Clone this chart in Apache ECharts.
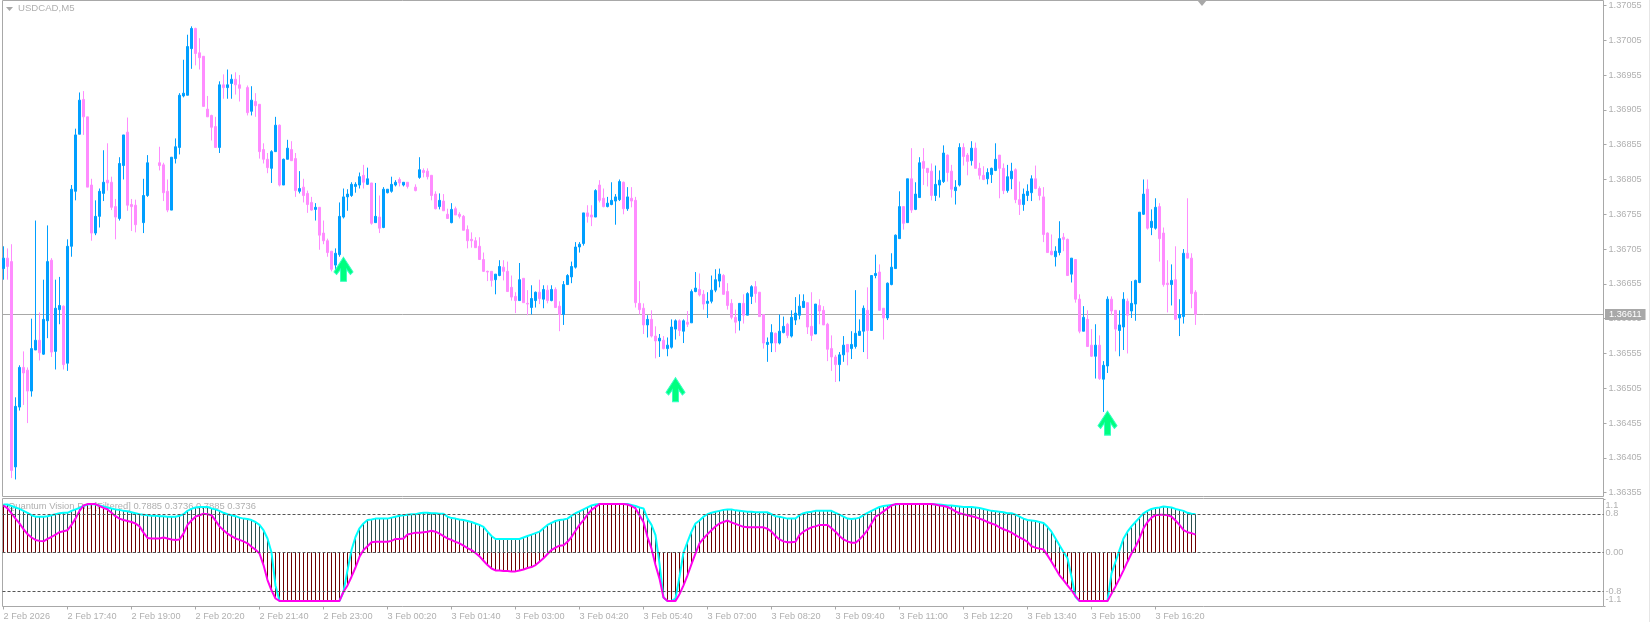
<!DOCTYPE html>
<html><head><meta charset="utf-8"><title>USDCAD,M5</title>
<style>html,body{margin:0;padding:0;background:#fff}#c{width:1650px;height:622px}</style>
<script src="https://cdn.jsdelivr.net/npm/echarts@6/dist/echarts.min.js"></script></head>
<body><div id="c"></div>
<script>
const opens=[1.36677,1.36692,1.36687,1.36392,1.36478,1.36535,1.36531,1.36501,1.36560,1.36574,
1.36554,1.36602,1.36689,1.36558,1.36618,1.36623,1.36541,1.36709,1.36788,1.36870,
1.36920,1.36895,1.36797,1.36728,1.36752,1.36785,1.36804,1.36801,1.36766,1.36749,
1.36825,1.36873,1.36769,1.36768,null,1.36743,1.36782,null,null,1.36829,
1.36826,1.36788,1.36761,1.36835,1.36851,1.36925,1.36926,1.36993,1.37022,1.36987,
1.36982,1.36906,1.36897,1.36881,1.36851,1.36941,1.36937,1.36943,1.36949,1.36941,
null,1.36937,1.36903,1.36917,1.36913,1.36848,1.36834,1.36821,1.36845,1.36883,
1.36797,1.36834,1.36848,1.36835,1.36788,1.36794,1.36785,1.36772,1.36762,1.36765,
1.36728,1.36717,1.36702,1.36682,1.36697,1.36751,1.36780,1.36782,1.36795,1.36797,
1.36811,1.36798,1.36800,1.36743,1.36751,1.36736,1.36786,1.36788,1.36797,1.36805,
1.36797,1.36801,null,1.36794,1.36808,1.36818,1.36817,1.36811,1.36784,1.36766,
1.36774,1.36755,1.36743,1.36763,1.36755,1.36752,1.36733,1.36719,1.36717,1.36709,
1.36690,1.36673,1.36673,1.36661,1.36667,1.36679,1.36673,1.36650,1.36637,1.36631,
1.36663,1.36627,1.36621,1.36631,1.36643,1.36633,1.36646,1.36631,1.36647,1.36623,
1.36611,1.36654,1.36665,1.36679,1.36708,1.36713,1.36757,1.36754,1.36751,1.36797,
1.36778,1.36766,1.36769,1.36774,1.36776,1.36801,1.36763,1.36778,1.36775,1.36627,
1.36620,1.36596,1.36604,1.36580,1.36573,1.36574,1.36562,1.36564,1.36590,1.36602,
1.36587,1.36600,1.36599,1.36644,1.36647,1.36640,1.36627,1.36630,1.36646,1.36659,
1.36667,1.36644,1.36627,1.36607,1.36602,1.36627,1.36610,1.36637,1.36651,1.36643,
1.36611,1.36568,1.36570,1.36584,1.36570,1.36585,1.36597,1.36580,1.36603,1.36610,
1.36621,1.36628,1.36594,1.36583,1.36624,1.36617,1.36597,1.36562,1.36550,1.36539,
1.36553,1.36568,1.36562,1.36565,1.36581,1.36587,1.36617,1.36588,1.36667,1.36672,
1.36620,1.36606,1.36654,1.36677,1.36720,1.36766,1.36743,1.36806,1.36762,1.36779,
1.36831,1.36821,1.36817,1.36782,1.36797,1.36802,1.36840,1.36817,1.36789,1.36797,
1.36851,1.36840,1.36832,1.36850,1.36821,1.36811,1.36806,1.36812,1.36818,1.36840,
1.36821,1.36789,1.36806,1.36819,1.36776,1.36769,1.36782,1.36786,1.36806,1.36792,
1.36780,1.36728,1.36702,1.36694,1.36700,1.36722,1.36719,1.36669,1.36690,1.36633,
1.36587,1.36604,1.36567,1.36551,1.36567,1.36518,1.36537,1.36633,1.36617,1.36588,
1.36593,1.36630,1.36616,1.36626,1.36657,1.36755,1.36791,1.36736,1.36735,1.36766,
1.36728,1.36656,1.36654,1.36661,1.36606,1.36608,1.36699,1.36692,1.36643];
const closes=[1.36692,1.36680,1.36387,1.36479,1.36535,1.36527,1.36501,1.36562,1.36574,1.36556,
1.36604,1.36687,1.36557,1.36620,1.36624,1.36539,1.36709,1.36791,1.36869,1.36919,
1.36895,1.36794,1.36728,1.36752,1.36788,1.36801,1.36800,1.36765,1.36751,1.36828,
1.36869,1.36768,1.36766,1.36740,null,1.36782,1.36829,null,null,1.36825,
1.36786,1.36761,1.36837,1.36852,1.36926,1.36929,1.36996,1.37022,1.36986,1.36980,
1.36910,1.36895,1.36880,1.36851,1.36941,1.36937,1.36941,1.36949,1.36941,1.36936,
null,1.36901,1.36919,1.36911,1.36845,1.36834,1.36822,1.36845,1.36883,1.36797,
1.36834,1.36850,1.36832,1.36789,1.36792,1.36782,1.36769,1.36761,1.36765,1.36725,
1.36717,1.36700,1.36676,1.36699,1.36752,1.36780,1.36784,1.36798,1.36798,1.36809,
1.36801,1.36806,1.36742,1.36752,1.36735,1.36791,1.36791,1.36798,1.36801,1.36800,
1.36801,1.36795,null,1.36789,1.36819,1.36815,1.36809,1.36782,1.36763,1.36775,
1.36760,1.36749,1.36762,1.36754,1.36752,1.36732,1.36717,1.36717,1.36707,1.36690,
1.36673,1.36672,1.36660,1.36669,1.36680,1.36673,1.36644,1.36636,1.36631,1.36661,
1.36628,1.36626,1.36634,1.36643,1.36634,1.36647,1.36631,1.36647,1.36621,1.36611,
1.36654,1.36667,1.36680,1.36708,1.36712,1.36757,1.36752,1.36751,1.36789,1.36775,
1.36766,1.36771,1.36775,1.36780,1.36802,1.36763,1.36780,1.36774,1.36628,1.36618,
1.36596,1.36604,1.36580,1.36573,1.36577,1.36562,1.36567,1.36593,1.36602,1.36588,
1.36602,1.36597,1.36644,1.36649,1.36639,1.36626,1.36630,1.36646,1.36661,1.36669,
1.36640,1.36624,1.36607,1.36600,1.36627,1.36610,1.36641,1.36651,1.36641,1.36608,
1.36570,1.36571,1.36585,1.36570,1.36587,1.36594,1.36581,1.36607,1.36613,1.36623,
1.36630,1.36593,1.36581,1.36626,1.36616,1.36596,1.36561,1.36550,1.36539,1.36553,
1.36567,1.36557,1.36568,1.36584,1.36587,1.36620,1.36588,1.36667,1.36670,1.36617,
1.36606,1.36656,1.36679,1.36725,1.36766,1.36742,1.36806,1.36761,1.36784,1.36829,
1.36821,1.36815,1.36782,1.36798,1.36804,1.36843,1.36815,1.36791,1.36794,1.36851,
1.36838,1.36831,1.36850,1.36821,1.36811,1.36805,1.36815,1.36821,1.36834,1.36821,
1.36789,1.36809,1.36817,1.36776,1.36769,1.36784,1.36788,1.36806,1.36792,1.36782,
1.36726,1.36700,1.36697,1.36702,1.36720,1.36719,1.36667,1.36692,1.36633,1.36587,
1.36607,1.36565,1.36551,1.36567,1.36519,1.36538,1.36633,1.36616,1.36590,1.36596,
1.36633,1.36610,1.36627,1.36660,1.36758,1.36784,1.36735,1.36745,1.36765,1.36720,
1.36654,1.36654,1.36660,1.36604,1.36611,1.36699,1.36692,1.36641,1.36611];
const highs=[1.36709,1.36706,1.36712,1.36492,1.36538,1.36558,1.36535,1.36605,1.36746,1.36614,
1.36661,1.36739,1.36692,1.36661,1.36665,1.36624,1.36719,1.36797,1.36878,1.36930,
1.36932,1.36895,1.36806,1.36775,1.36792,1.36847,1.36857,1.36809,1.36777,1.36837,
1.36869,1.36894,1.36777,1.36776,null,1.36806,1.36840,null,null,1.36852,
1.36829,1.36805,1.36837,1.36864,1.36929,1.36977,1.37013,1.37025,1.37023,1.37008,
1.36982,1.36925,1.36898,1.36895,1.36946,1.36956,1.36963,1.36956,1.36959,1.36955,
null,1.36940,1.36939,1.36929,1.36913,1.36857,1.36843,1.36847,1.36895,1.36884,
1.36835,1.36862,1.36860,1.36843,1.36817,1.36806,1.36789,1.36780,1.36771,1.36765,
1.36746,1.36720,1.36702,1.36706,1.36772,1.36792,1.36791,1.36801,1.36801,1.36815,
1.36826,1.36822,1.36800,1.36800,1.36782,1.36794,1.36791,1.36809,1.36804,1.36808,
1.36801,1.36801,null,1.36798,1.36837,1.36821,1.36821,1.36811,1.36788,1.36785,
1.36784,1.36763,1.36771,1.36766,1.36758,1.36754,1.36739,1.36729,1.36722,1.36722,
1.36700,1.36674,1.36673,1.36669,1.36689,1.36689,1.36687,1.36667,1.36643,1.36685,
1.36663,1.36646,1.36653,1.36644,1.36661,1.36653,1.36653,1.36653,1.36650,1.36630,
1.36659,1.36669,1.36687,1.36715,1.36715,1.36757,1.36768,1.36768,1.36791,1.36804,
1.36792,1.36780,1.36801,1.36784,1.36805,1.36802,1.36794,1.36794,1.36780,1.36659,
1.36627,1.36610,1.36617,1.36594,1.36583,1.36580,1.36578,1.36604,1.36604,1.36604,
1.36604,1.36616,1.36647,1.36672,1.36670,1.36646,1.36643,1.36667,1.36676,1.36677,
1.36669,1.36656,1.36633,1.36618,1.36627,1.36640,1.36643,1.36653,1.36659,1.36643,
1.36611,1.36578,1.36597,1.36585,1.36611,1.36608,1.36599,1.36617,1.36636,1.36640,
1.36640,1.36628,1.36643,1.36626,1.36633,1.36623,1.36599,1.36581,1.36553,1.36557,
1.36580,1.36568,1.36587,1.36646,1.36604,1.36624,1.36650,1.36667,1.36697,1.36683,
1.36620,1.36657,1.36699,1.36726,1.36788,1.36766,1.36806,1.36850,1.36801,1.36837,
1.36850,1.36821,1.36828,1.36825,1.36818,1.36854,1.36841,1.36826,1.36804,1.36857,
1.36857,1.36843,1.36860,1.36858,1.36829,1.36824,1.36821,1.36822,1.36857,1.36840,
1.36828,1.36826,1.36829,1.36821,1.36802,1.36792,1.36798,1.36811,1.36825,1.36795,
1.36794,1.36729,1.36726,1.36709,1.36745,1.36728,1.36720,1.36692,1.36690,1.36640,
1.36623,1.36617,1.36590,1.36597,1.36581,1.36544,1.36637,1.36637,1.36617,1.36617,
1.36643,1.36634,1.36659,1.36661,1.36758,1.36805,1.36805,1.36762,1.36778,1.36771,
1.36736,1.36689,1.36683,1.36709,1.36633,1.36705,1.36778,1.36699,1.36646];
const lows=[1.36661,1.36661,1.36376,1.36374,1.36473,1.36481,1.36455,1.36493,1.36560,1.36545,
1.36553,1.36577,1.36550,1.36532,1.36597,1.36532,1.36530,1.36694,1.36775,1.36870,
1.36869,1.36794,1.36717,1.36725,1.36736,1.36774,1.36789,1.36761,1.36719,1.36746,
1.36805,1.36760,1.36731,1.36729,null,1.36728,1.36780,null,null,1.36818,
1.36774,1.36758,1.36761,1.36828,1.36841,1.36923,1.36926,1.36964,1.36969,1.36963,
1.36910,1.36895,1.36861,1.36851,1.36843,1.36921,1.36921,1.36921,1.36927,1.36917,
null,1.36897,1.36897,1.36895,1.36835,1.36828,1.36814,1.36800,1.36845,1.36795,
1.36797,1.36834,1.36832,1.36780,1.36785,1.36772,1.36757,1.36760,1.36746,1.36704,
1.36712,1.36694,1.36673,1.36674,1.36694,1.36749,1.36760,1.36780,1.36786,1.36792,
1.36792,1.36797,1.36740,1.36743,1.36728,1.36735,1.36785,1.36786,1.36795,1.36795,
1.36795,1.36792,null,1.36788,1.36806,1.36808,1.36805,1.36775,1.36762,1.36762,
1.36760,1.36749,1.36742,1.36754,1.36749,1.36732,1.36706,1.36707,1.36707,1.36690,
1.36672,1.36659,1.36651,1.36640,1.36666,1.36660,1.36644,1.36631,1.36613,1.36631,
1.36628,1.36610,1.36611,1.36621,1.36626,1.36620,1.36627,1.36630,1.36621,1.36587,
1.36596,1.36654,1.36656,1.36677,1.36700,1.36710,1.36743,1.36738,1.36751,1.36772,
1.36765,1.36765,1.36768,1.36740,1.36774,1.36755,1.36760,1.36765,1.36621,1.36611,
1.36583,1.36578,1.36578,1.36548,1.36550,1.36561,1.36551,1.36562,1.36575,1.36580,
1.36570,1.36593,1.36599,1.36643,1.36637,1.36618,1.36606,1.36627,1.36643,1.36650,
1.36639,1.36618,1.36604,1.36584,1.36588,1.36598,1.36610,1.36626,1.36628,1.36608,
1.36562,1.36543,1.36557,1.36557,1.36568,1.36584,1.36577,1.36578,1.36596,1.36604,
1.36621,1.36583,1.36573,1.36583,1.36597,1.36596,1.36544,1.36530,1.36514,1.36515,
1.36543,1.36538,1.36547,1.36562,1.36581,1.36557,1.36547,1.36588,1.36663,1.36617,
1.36575,1.36603,1.36653,1.36677,1.36720,1.36733,1.36743,1.36757,1.36761,1.36779,
1.36797,1.36795,1.36775,1.36774,1.36779,1.36800,1.36802,1.36779,1.36769,1.36795,
1.36825,1.36811,1.36825,1.36821,1.36805,1.36804,1.36798,1.36800,1.36817,1.36778,
1.36784,1.36786,1.36791,1.36771,1.36754,1.36760,1.36774,1.36774,1.36791,1.36775,
1.36715,1.36700,1.36696,1.36680,1.36696,1.36702,1.36667,1.36657,1.36628,1.36584,
1.36587,1.36565,1.36550,1.36519,1.36517,1.36471,1.36527,1.36610,1.36558,1.36551,
1.36560,1.36555,1.36606,1.36602,1.36656,1.36754,1.36733,1.36725,1.36733,1.36687,
1.36651,1.36614,1.36624,1.36603,1.36580,1.36598,1.36692,1.36620,1.36596];
const oscFast=[.99,.99,.96,.93,.90,.86,.82,.77,.74,.74,
.74,.75,.77,.79,.81,.82,.82,.86,.89,.92,
.96,.99,1,.99,.97,.95,.93,.91,.89,.88,
.86,.85,.83,.81,.79,.78,.77,.76,.76,.75,
.75,.74,.74,.74,.76,.79,.86,.90,.93,.94,
.94,.94,.91,.89,.86,.82,.79,.77,.75,.72,
.70,.69,.67,.63,.57,.46,.29,0,-.68,-1,
-1,-1,-1,-1,-1,-1,-1,-1,-1,-1,
-1,-1,-1,-1,-1,-.81,-.37,.05,.32,.50,
.60,.67,.68,.70,.70,.70,.70,.72,.74,.76,
.77,.78,.79,.79,.81,.82,.82,.81,.81,.80,
.80,.74,.71,.70,.68,.67,.65,.63,.60,.57,
.53,.43,.34,.28,.28,.28,.28,.28,.28,.28,
.31,.34,.37,.40,.43,.50,.57,.61,.65,.67,
.68,.70,.76,.81,.85,.89,.93,.97,.99,1,
1,1,1,1,1,1,1,.98,.96,.93,
.91,.70,.57,.36,-.23,-.93,-1,-1,-.95,-.50,
0,.22,.43,.60,.66,.74,.79,.82,.84,.86,
.88,.89,.89,.87,.86,.85,.84,.84,.83,.83,
.83,.83,.79,.75,.74,.72,.70,.70,.70,.77,
.81,.83,.84,.86,.86,.86,.86,.86,.82,.78,
.74,.70,.69,.70,.72,.77,.82,.86,.90,.94,
.96,.97,.98,.99,1,1,1,1,1,1,
1,1,1,.99,.99,.98,.97,.97,.96,.95,
.94,.94,.94,.93,.92,.90,.88,.86,.85,.84,
.83,.81,.81,.78,.74,.70,.67,.66,.65,.63,
.61,.53,.43,.29,.15,.01,-.12,-.50,-.92,-1,
-1,-1,-1,-1,-1,-1,-1,-.43,-.19,.05,
.29,.43,.54,.63,.72,.81,.86,.90,.92,.93,
.95,.94,.93,.90,.88,.86,.82,.80,.79];
const oscSlow=[.97,.91,.81,.70,.60,.48,.38,.31,.26,.24,
.23,.28,.32,.37,.42,.44,.46,.57,.70,.86,
.97,1,1,1,.96,.92,.89,.82,.75,.70,
.67,.65,.63,.60,.54,.41,.30,.29,.29,.29,
.31,.29,.27,.26,.27,.39,.57,.66,.74,.77,
.80,.79,.77,.66,.54,.46,.39,.34,.29,.26,
.23,.19,.12,.06,-.02,-.26,-.57,-.78,-.95,-1,
-1,-1,-1,-1,-1,-1,-1,-1,-1,-1,
-1,-1,-1,-1,-1,-.81,-.68,-.50,-.31,-.09,
.05,.13,.21,.22,.22,.22,.22,.24,.28,.28,
.29,.37,.39,.41,.41,.42,.43,.45,.43,.39,
.34,.29,.26,.22,.19,.14,.09,.05,-.01,-.08,
-.17,-.26,-.33,-.37,-.37,-.38,-.38,-.39,-.39,-.37,
-.35,-.32,-.30,-.26,-.19,-.12,-.03,.05,.10,.14,
.15,.22,.32,.45,.57,.67,.78,.88,.94,1,
1,1,1,1,1,1,.99,.96,.91,.77,
.63,.32,.08,-.26,-.54,-.93,-1,-1,-1,-.86,
-.68,-.47,-.24,-.02,.19,.29,.38,.46,.54,.60,
.63,.66,.62,.59,.56,.53,.52,.52,.52,.52,
.52,.49,.43,.34,.27,.23,.21,.21,.22,.36,
.43,.48,.52,.54,.57,.57,.57,.50,.43,.34,
.27,.23,.20,.20,.27,.36,.46,.60,.74,.79,
.85,.91,.97,1,1,1,1,1,1,1,
1,1,1,.99,.97,.96,.94,.90,.85,.81,
.79,.77,.75,.73,.70,.67,.63,.60,.57,.52,
.48,.45,.41,.36,.31,.27,.22,.13,.10,.08,
.06,-.06,-.19,-.33,-.47,-.57,-.68,-.78,-.90,-1,
-1,-1,-1,-1,-1,-1,-1,-.85,-.70,-.54,
-.37,-.19,-.02,.12,.29,.50,.63,.72,.77,.78,
.78,.77,.74,.66,.57,.46,.42,.40,.37];
const timeLabels=["2 Feb 2026","2 Feb 17:40","2 Feb 19:00","2 Feb 20:20","2 Feb 21:40","2 Feb 23:00","3 Feb 00:20","3 Feb 01:40","3 Feb 03:00","3 Feb 04:20","3 Feb 05:40","3 Feb 07:00","3 Feb 08:20","3 Feb 09:40","3 Feb 11:00","3 Feb 12:20","3 Feb 13:40","3 Feb 15:00","3 Feb 16:20"];
const priceTicks=[1.37055,1.37005,1.36955,1.36905,1.36855,1.36805,1.36755,1.36705,1.36655,1.36605,1.36555,1.36505,1.36455,1.36405,1.36355];
const oscTicks=[-0.8,0,0.8];
const oscEndTicks=[-1.1,1.1];
const oscLevels=[0.8,0,-0.8];
const arrowBars=[85,168,276];
const arrowPrices=[1.36676,1.36503,1.36455];
const lastPrice=1.36611;
const barsPerLabel=16;

const TXT='#b0b0b0',LINE='#a8a8a8',FONT='"Liberation Sans",Arial,sans-serif';
const candles=[];
opens.forEach((o,i)=>{if(o!==null)candles.push([i,o,closes[i],lows[i],highs[i]]);});
const pairs=a=>a.map((v,i)=>[i,v]);
const chart=echarts.init(document.getElementById('c'),null,{renderer:'canvas'});
chart.setOption({
 animation:false,backgroundColor:'#fff',tooltip:{show:false},legend:{show:false},
 title:[
  {text:'USDCAD,M5',left:18,top:3,padding:0,z:1,textStyle:{color:TXT,fontSize:9.6,fontWeight:'normal',fontFamily:FONT}},
  {text:'Quantum Vision Pro [Filtered] 0.7885 0.3736 0.7885 0.3736',left:8,top:502,padding:0,z:1,textStyle:{color:TXT,fontSize:9.4,fontWeight:'normal',fontFamily:FONT}}
 ],
 grid:[
  {left:2.5,top:0.5,width:1601,height:496,show:true,borderColor:LINE,borderWidth:1,outerBoundsMode:'none'},
  {left:2.5,top:498.5,width:1601,height:108,show:true,borderColor:LINE,borderWidth:1,outerBoundsMode:'none'}
 ],
 xAxis:[
  {gridIndex:0,type:'value',min:-0.25,max:400,show:false,splitLine:{show:false}},
  {gridIndex:1,type:'value',min:-0.25,max:400,position:'bottom',splitLine:{show:false},
   axisLine:{show:false,onZero:false},
   axisTick:{show:true,length:3,lineStyle:{color:LINE},customValues:timeLabels.map((t,k)=>k*barsPerLabel)},
   axisLabel:{show:true,margin:5,align:'left',color:TXT,fontSize:9.2,fontFamily:FONT,
    customValues:timeLabels.map((t,k)=>k*barsPerLabel),formatter:v=>timeLabels[Math.round(v/barsPerLabel)],
    showMinLabel:true,showMaxLabel:true}}
 ],
 yAxis:[
  {gridIndex:0,type:'value',position:'right',scale:true,min:1.3634951,max:1.3706215,splitLine:{show:false},
   axisLine:{show:false,onZero:false},
   axisTick:{show:true,length:3,lineStyle:{color:LINE},customValues:priceTicks},
   axisLabel:{show:true,margin:5,color:TXT,fontSize:9.2,fontFamily:FONT,customValues:priceTicks,formatter:v=>v.toFixed(5)}},
  {gridIndex:1,type:'value',position:'right',min:-1.115,max:1.115,splitLine:{show:false},
   axisLine:{show:false,onZero:false},
   axisTick:{show:false},
   axisLabel:{show:true,margin:2,color:TXT,fontSize:9.2,fontFamily:FONT,customValues:oscTicks,
    showMinLabel:true,showMaxLabel:true,formatter:v=>v===0?'0.00':String(v)}},
  {gridIndex:1,type:'value',position:'right',min:-1.115,max:1.115,splitLine:{show:false},
   axisLine:{show:false,onZero:false},
   axisTick:{show:true,length:2,lineStyle:{color:LINE},customValues:oscEndTicks},
   axisLabel:{show:true,margin:2,color:TXT,fontSize:9.2,fontFamily:FONT,customValues:oscEndTicks,
    showMinLabel:true,showMaxLabel:true,
    formatter:v=>v>0?'{hi|'+v+'}':'{lo|'+v+'}',
    rich:{hi:{color:TXT,fontSize:9.2,fontFamily:FONT,padding:[13,0,0,0]},lo:{color:TXT,fontSize:9.2,fontFamily:FONT,padding:[0,0,12,0]}}}}
 ],
 series:[
  {type:'candlestick',name:'USDCAD',xAxisIndex:0,yAxisIndex:0,data:candles,barWidth:2,
   dimensions:['bar','open','close','lowest','highest'],encode:{x:0,y:[1,2,3,4]},
   itemStyle:{color:'#009fff',color0:'#ff8cff',borderColor:'#009fff',borderColor0:'#ff8cff',borderWidth:1},
   markLine:{silent:true,symbol:['none','none'],z:1,animation:false,precision:5,
    lineStyle:{color:LINE,width:1,type:'solid'},
    label:{show:true,position:'end',distance:1.5,formatter:()=>lastPrice.toFixed(5),color:'#fff',backgroundColor:LINE,
     padding:[1,4,1,4],fontSize:9.2,fontFamily:FONT},
    data:[{yAxis:lastPrice}]}},
  {type:'scatter',name:'Arrows',xAxisIndex:0,yAxisIndex:0,z:4,
   data:arrowBars.map((b,k)=>[b,arrowPrices[k]]),
   symbol:'path://M29 0 L58 44 L50 52 L38 36 L38 72 L20 72 L20 36 L8 52 L0 44 Z',symbolSize:[19,24],symbolKeepAspect:false,
   itemStyle:{color:'#00ff7f',opacity:1,borderColor:'#30ffc0',borderWidth:1}},
  {type:'bar',name:'Fast histogram',xAxisIndex:1,yAxisIndex:1,data:pairs(oscFast),barWidth:1,barGap:'-100%',
   itemStyle:{color:'#2f4f4f'}},
  {type:'bar',name:'Slow histogram',xAxisIndex:1,yAxisIndex:1,data:pairs(oscSlow),barWidth:1,barGap:'-100%',
   itemStyle:{color:'#6e0000'},
   markLine:{silent:true,symbol:['none','none'],animation:false,label:{show:false},
    lineStyle:{color:'#555',width:1,type:[3,2]},data:oscLevels.map(v=>({yAxis:v}))}},
  {type:'line',name:'Fast',xAxisIndex:1,yAxisIndex:1,data:pairs(oscFast),showSymbol:false,
   lineStyle:{color:'#00ffff',width:2},itemStyle:{color:'#00ffff'}},
  {type:'line',name:'Slow',xAxisIndex:1,yAxisIndex:1,data:pairs(oscSlow),showSymbol:false,
   lineStyle:{color:'#ff00ee',width:2},itemStyle:{color:'#ff00ee'}}
 ],
 graphic:[
  {type:'polygon',silent:true,shape:{points:[[6,7],[13,7],[9.5,11]]},style:{fill:LINE}},
  {type:'polygon',silent:true,shape:{points:[[1197,0],[1207,0],[1202,6]]},style:{fill:LINE}},
  {type:'rect',silent:true,shape:{x:1649,y:0,width:1,height:622},style:{fill:'#e6e6e6'}}
 ]
});
</script></body></html>
